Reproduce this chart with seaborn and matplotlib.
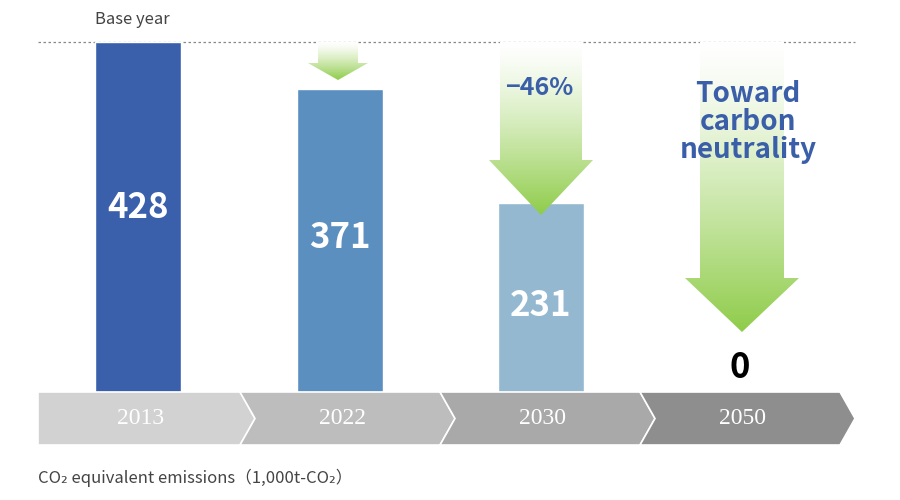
import matplotlib
matplotlib.use("Agg")
import matplotlib.pyplot as plt
import seaborn as sns
import numpy as np
from matplotlib.patches import Polygon

sns.set_style("white")
plt.rcParams['font.family'] = ['Noto Sans CJK JP', 'DejaVu Sans']

years = ["2013", "2022", "2030", "2050"]
values = [428, 371, 231, 0]
bar_colors = ["#3a5fab", "#5b8fc0", "#95b8d1", "#95b8d1"]
chevron_colors = ["#d2d2d2", "#bdbdbd", "#a9a9a9", "#8e8e8e"]

fig = plt.figure(figsize=(9, 5), dpi=100)
ax = fig.add_axes([0, 0, 1, 1])
S = 428 / 350.0

def py(p):  # pixel row -> data y
    return (392 - p) * S

xpos = [138, 340, 541, 740]
ax.bar(xpos, values, width=86, color=bar_colors, zorder=2)
ax.set_xlim(0, 900)
ax.set_ylim(-(500 - 392) * S, 392 * S)
ax.axis("off")

ax.plot([38, 855], [py(42), py(42)], ls=(0, (2, 2)), color="#888888", lw=0.9, zorder=1)
ax.text(95, py(20), "Base year", fontsize=12, color="#444444", va="center")

def arrow(cx, top, bot, shaft_w, head_w, head_y):
    pts = [(cx - shaft_w/2, top), (cx + shaft_w/2, top), (cx + shaft_w/2, head_y),
           (cx + head_w/2, head_y), (cx, bot), (cx - head_w/2, head_y),
           (cx - shaft_w/2, head_y)]
    pts = [(x, py(y)) for x, y in pts]
    poly = Polygon(pts, closed=True, facecolor="none", edgecolor="none")
    ax.add_patch(poly)
    n = 256
    t = np.linspace(0, 1, n)[:, None]
    top_c = np.array([1, 1, 1]); bot_c = np.array([0x8f, 0xcc, 0x4a]) / 255
    img = (1 - t**1.3) * top_c + (t**1.3) * bot_c
    img = np.repeat(img[:, None, :], 2, axis=1)
    im = ax.imshow(img, extent=[cx - head_w/2, cx + head_w/2, py(bot), py(top)],
                   aspect="auto", zorder=3)
    im.set_clip_path(poly)

arrow(338, 42, 80, 40, 60, 63)
arrow(541, 42, 215, 82, 104, 160)
arrow(742, 42, 332, 84, 114, 278)
ax.set_xlim(0, 900)
ax.set_ylim(-(500 - 392) * S, 392 * S)

lab_y = [207, 238, 305, 368]
for x, v, yy in zip(xpos, values, lab_y):
    ax.text(x, py(yy), str(v), ha="center", va="center", fontsize=25,
            fontweight="bold", color="white" if v else "black", zorder=5)

ax.text(539, py(88), "−46%", ha="center", va="center", fontsize=18,
        fontweight="bold", color="#3a5fa8", zorder=5)
ax.text(748, py(122), "Toward\ncarbon\nneutrality", ha="center", va="center",
        fontsize=20, fontweight="bold", color="#3a5fa8", linespacing=1.0, zorder=5)

segs = [(38, 240), (240, 440), (440, 640), (640, 840)]
for i, ((x0, x1), c, yr) in enumerate(zip(segs, chevron_colors, years)):
    t, b, m = 392, 445, 418.5
    if i == 0:
        pts = [(x0, t), (x1, t), (x1 + 15, m), (x1, b), (x0, b)]
    else:
        pts = [(x0, t), (x1, t), (x1 + 15, m), (x1, b), (x0, b), (x0 + 15, m)]
    ax.add_patch(Polygon([(x, py(y)) for x, y in pts], closed=True, facecolor=c,
                         edgecolor="white", lw=1.2, zorder=4))
    ax.text((x0 + x1) / 2 + 2, py(m), yr, ha="center", va="center", fontsize=17,
            color="white", family="Liberation Serif", zorder=5)

ax.text(38, py(478), "CO₂ equivalent emissions（1,000t-CO₂）", fontsize=12,
        color="#444444", va="center")

fig.savefig("out.png", dpi=100)
